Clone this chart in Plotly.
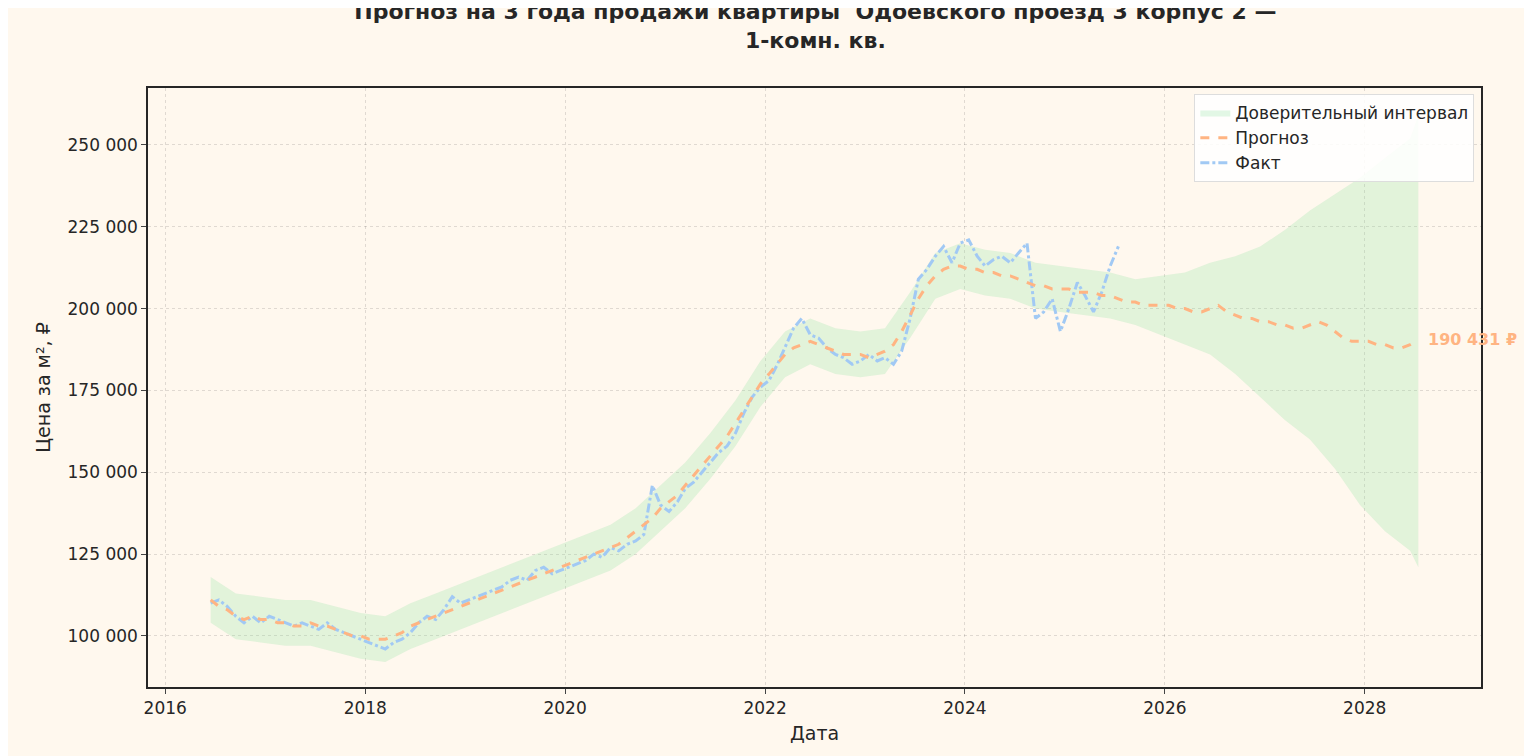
import pandas as pd
import plotly.graph_objects as go

# Monthly actual price per m2 (thousand RUB), 2016-06 .. 2025-07
fact_k = [110, 111, 109, 106, 104, 106, 104,
          106, 105, 104, 103, 104, 103, 102, 104, 102, 101, 100, 99,
          98, 97, 96, 98, 99, 101, 104, 106, 105, 108, 112, 110,
          111, 112, 113, 114, 115, 117, 118, 117, 120, 121, 119, 120,
          121, 122, 123, 125, 124, 127, 126, 128, 129, 131, 146, 140,
          138, 141, 145, 147, 150, 153, 156, 158, 162, 168, 173, 176,
          178, 183, 188, 194, 197, 192, 191, 188, 186, 185, 183, 184,
          186, 184, 185, 183, 187, 197, 209, 212, 216, 219, 214, 220,
          221, 216, 213, 215, 216, 214, 217, 220, 197, 199, 203, 193,
          200, 208, 204, 199, 205, 213, 219]

# Monthly model / forecast, 2016-06 .. 2028-07
forecast_k = [111, 109, 108, 106, 105, 106, 105,
              105, 104, 104, 103, 103, 104, 103, 103, 102, 101, 100, 100,
              99, 99, 99, 100, 101, 103, 104, 105, 106, 107, 108, 109,
              110, 111, 112, 113, 114, 115, 116, 117, 118, 119, 120, 121,
              122, 123, 124, 125, 126, 127, 128, 130, 132, 134, 136, 139,
              141, 143, 146, 149, 152, 155, 158, 161, 165, 169, 173, 177,
              180, 183, 186, 188, 189, 190, 189, 188, 187, 186, 186, 186,
              185, 186, 187, 189, 193, 198, 203, 207, 210, 212, 213, 213,
              212, 212, 211, 211, 210, 210, 209, 208, 207, 207, 206, 206,
              206, 205, 205, 205, 204, 204, 203, 202, 202, 201, 201, 201,
              201, 200, 200, 199, 199, 200, 201, 199, 198, 197, 197, 196,
              196, 195, 195, 194, 194, 195, 196, 195, 193, 191, 190, 190,
              190, 189, 189, 188, 188, 189, 190.431]

# Confidence interval, quarterly
ci_dates = (["2016-06-15", "2016-09-15", "2016-12-15"]
            + [f"{y}-{m:02d}-15" for y in range(2017, 2028) for m in (3, 6, 9, 12)]
            + ["2028-03-15", "2028-06-15", "2028-07-15"])
ci_lower_k = [104, 99, 98, 97, 97, 95, 93, 92, 96, 99, 102, 105, 108, 111, 114,
              117, 120, 125, 132, 139, 148, 158, 170, 179, 183, 180, 179,
              180, 191, 203, 206, 204, 203, 200, 199, 198, 197, 195, 192,
              189, 186, 180, 173, 166, 160, 151, 140, 132, 126, 121]
ci_upper_k = [118, 113, 112, 111, 111, 109, 107, 106, 110, 113, 116, 119, 122, 125, 128,
              131, 134, 139, 146, 153, 162, 172, 184, 193, 197, 194, 193,
              194, 205, 217, 220, 218, 217, 214, 213, 212, 211, 209, 210,
              211, 214, 216, 219, 224, 230, 235, 240, 246, 252, 259]

fact_dates = pd.date_range("2016-06-01", periods=len(fact_k), freq="MS") + pd.Timedelta(days=14)
fc_dates = pd.date_range("2016-06-01", periods=len(forecast_k), freq="MS") + pd.Timedelta(days=14)
fact = [v * 1000 for v in fact_k]
forecast = [v * 1000 for v in forecast_k]
lower = [v * 1000 for v in ci_lower_k]
upper = [v * 1000 for v in ci_upper_k]

fig = go.Figure()
fig.add_trace(go.Scatter(x=ci_dates, y=lower, mode="lines", line=dict(width=0),
                         showlegend=False, hoverinfo="skip"))
fig.add_trace(go.Scatter(x=ci_dates, y=upper, mode="lines", line=dict(width=0),
                         fill="tonexty", fillcolor="rgba(141,229,161,0.25)",
                         name="Доверительный интервал", legendrank=3))
fig.add_trace(go.Scatter(x=fact_dates, y=fact, mode="lines", name="Факт", legendrank=1,
                         line=dict(color="#a1c9f4", width=3, dash="dashdot")))
fig.add_trace(go.Scatter(x=fc_dates, y=forecast, mode="lines", name="Прогноз", legendrank=2,
                         line=dict(color="#ffb482", width=3, dash="dash")))

fig.add_annotation(x=fc_dates[-1], y=forecast[-1], text="<b>190 431 ₽</b>",
                   showarrow=False, xanchor="left", xshift=8,
                   font=dict(color="#ffb482", size=16))

fig.update_layout(
    width=1532, height=756,
    paper_bgcolor="#fff8ee", plot_bgcolor="#fff8ee",
    font=dict(family="DejaVu Sans", size=17, color="#262626"),
    title=dict(text="<b>Прогноз на 3 года продажи квартиры  Одоевского проезд 3 корпус 2 —<br>1-комн. кв.</b>",
               x=0.527, xanchor="center", y=0.985, yanchor="top", font=dict(size=22)),
    margin=dict(l=140, r=59, t=80, b=77),
    legend=dict(x=0.995, y=0.99, xanchor="right", yanchor="top",
                bgcolor="rgba(255,255,255,0.85)", bordercolor="#dddddd", borderwidth=1,
                font=dict(size=17)),
    xaxis=dict(title=dict(text="Дата", font=dict(size=19), standoff=10), range=["2015-10-30", "2029-03-01"],
               tickvals=[f"{y}-01-01" for y in range(2016, 2030, 2)],
               ticktext=[str(y) for y in range(2016, 2030, 2)],
               showgrid=True, gridcolor="rgba(0,0,0,0.12)", griddash="dot",
               showline=True, linecolor="#262626", linewidth=1.5, mirror=True,
               ticks="outside", ticklen=5, zeroline=False),
    yaxis=dict(title=dict(text="Цена за м², ₽", font=dict(size=19), standoff=12), range=[84400, 267400],
               tickvals=list(range(100000, 260000, 25000)),
               ticktext=[f"{v:,}".replace(",", " ") for v in range(100000, 260000, 25000)],
               showgrid=True, gridcolor="rgba(0,0,0,0.12)", griddash="dot",
               showline=True, linecolor="#262626", linewidth=1.5, mirror=True,
               ticks="outside", ticklen=5, zeroline=False),
)

fig.write_html("out.html")
